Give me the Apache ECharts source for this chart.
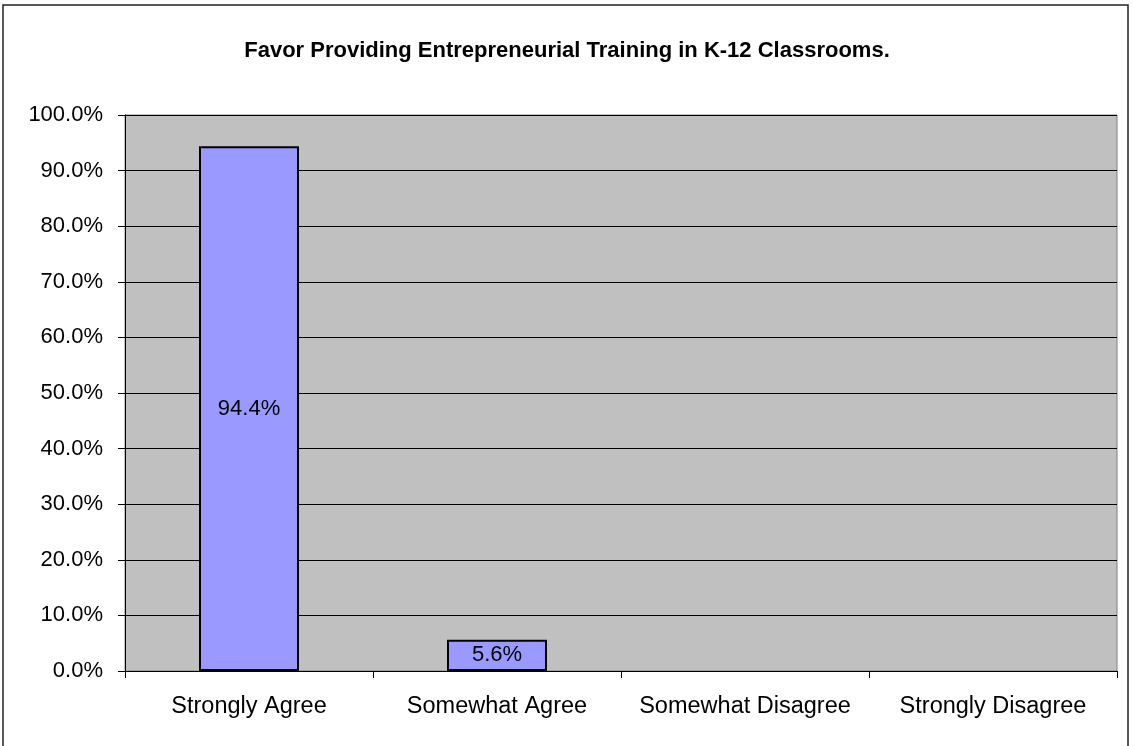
<!DOCTYPE html>
<html>
<head>
<meta charset="utf-8">
<script src="https://cdn.jsdelivr.net/npm/echarts@6/dist/echarts.min.js"></script>
<style>
html,body{margin:0;padding:0;background:#fff;}
#chart{width:1134px;height:746px;}
</style>
</head>
<body>
<div id="chart"></div>
<script>
const titleText = 'Favor Providing Entrepreneurial Training in K-12 Classrooms.';
const categories = ['Strongly Agree', 'Somewhat Agree', 'Somewhat Disagree', 'Strongly Disagree'];
const values = [94.4, 5.6, null, null];
const yTicks = [0, 10, 20, 30, 40, 50, 60, 70, 80, 90, 100];

const FONT = '"Liberation Sans", Arial, sans-serif';
const chart = echarts.init(document.getElementById('chart'), null, {renderer: 'canvas'});
chart.setOption({
  animation: false,
  backgroundColor: '#ffffff',
  textStyle: {fontFamily: FONT},
  title: {
    text: titleText,
    left: 'center',
    top: 35,
    textStyle: {fontFamily: FONT, fontSize: 22, fontWeight: 'bold', color: '#000'}
  },
  graphic: [{
    type: 'rect',
    shape: {x: 3, y: 5, width: 1125, height: 780},
    style: {fill: 'none', stroke: '#222', lineWidth: 1.5},
    silent: true,
    z: 100
  }],
  grid: {
    left: 125, right: 17, top: 115, bottom: 75,
    show: true,
    backgroundColor: '#C0C0C0',
    borderColor: '#808080',
    borderWidth: 1
  },
  xAxis: {
    type: 'category',
    data: categories,
    axisLine: {lineStyle: {color: '#000', width: 1}},
    axisTick: {show: true, length: 7, lineStyle: {color: '#000'}},
    axisLabel: {fontFamily: FONT, fontSize: 23.5, color: '#000', margin: 24, interval: 0}
  },
  yAxis: {
    type: 'value',
    min: yTicks[0],
    max: yTicks[yTicks.length - 1],
    interval: 10,
    axisLine: {show: true, lineStyle: {color: '#000', width: 1}},
    axisTick: {show: true, length: 7, lineStyle: {color: '#000'}},
    axisLabel: {fontFamily: FONT, fontSize: 22, color: '#000', margin: 22,
      formatter: v => v.toFixed(1) + '%'},
    splitLine: {show: true, lineStyle: {color: '#000', width: 1}}
  },
  series: [{
    type: 'bar',
    data: values,
    barWidth: 100,
    itemStyle: {color: '#9999FF', borderColor: '#000', borderWidth: 2},
    label: {
      show: true,
      position: 'inside',
      fontFamily: FONT,
      fontSize: 22,
      color: '#000',
      formatter: p => (p.value == null ? '' : p.value.toFixed(1) + '%')
    }
  }]
});
</script>
</body>
</html>
